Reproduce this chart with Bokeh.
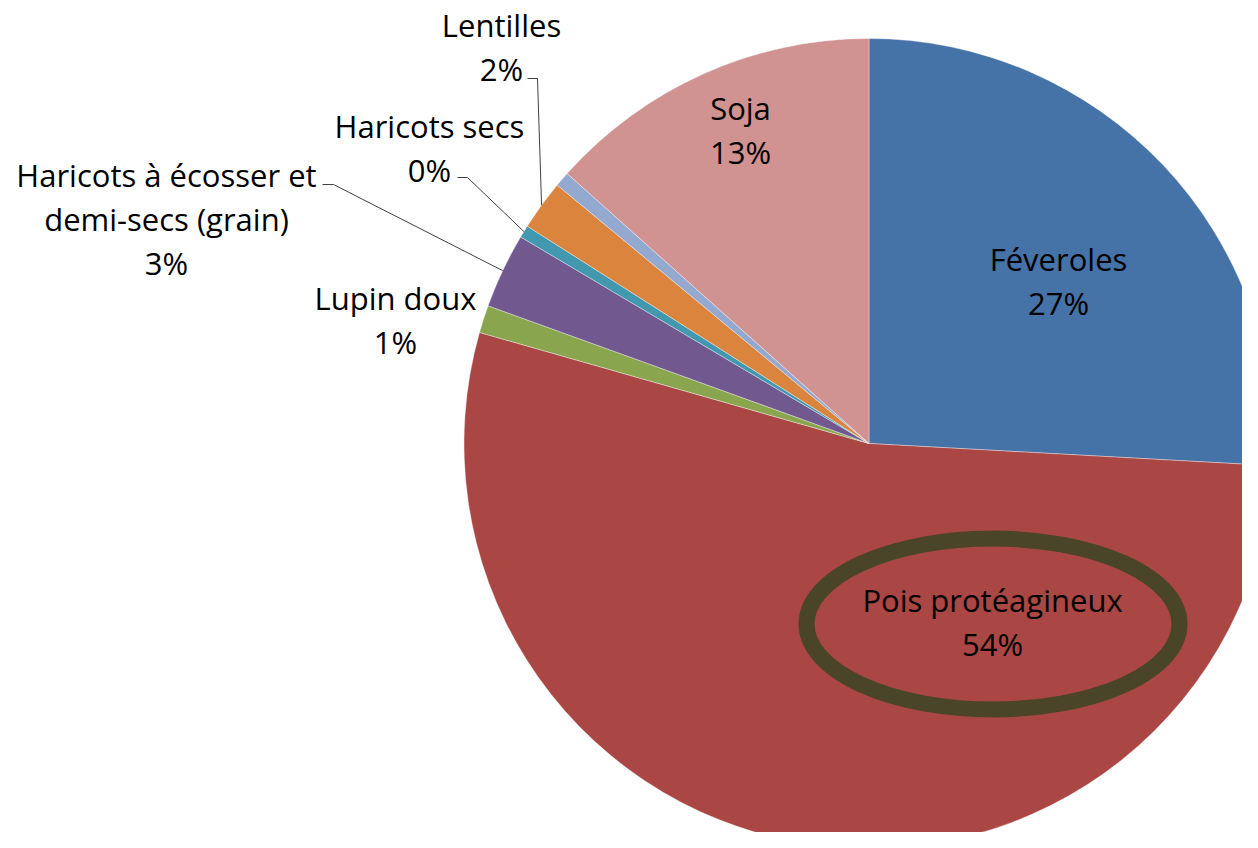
import math
from bokeh.plotting import figure
from bokeh.models import Range1d
from bokeh.embed import file_html
from bokeh.resources import INLINE
from bokeh.core.properties import value

# ---- data ----
categories = ["Féveroles", "Pois protéagineux", "Lupin doux",
              "Haricots à écosser et demi-secs (grain)", "Haricots secs",
              "Lentilles", "Autres", "Soja"]
shares = [25.9, 53.6, 1.1, 3.0, 0.5, 2.0, 0.6, 13.4]
labels = ["Féveroles\n27%", "Pois protéagineux\n54%", "Lupin doux\n1%",
          "Haricots à écosser et\ndemi-secs (grain)\n3%", "Haricots secs\n0%",
          "Lentilles\n2%", "", "Soja\n13%"]
colors = ["#4572A7", "#AA4643", "#89A54E", "#71588F", "#4198AF",
          "#DB843D", "#93A9CF", "#D19392"]

# ---- layout (picture pixel coordinates) ----
W, H = 1242, 832
def X(px): return px
def Y(py): return H - py

CX, CY, R = X(868.5), Y(443), 405
LINE_H = 44
TEXT_SHIFT = -10
# first-line baseline position of each label
label_pos = {
    "Féveroles": (1058, 268),
    "Pois protéagineux": (992, 609),
    "Lupin doux": (395, 307),
    "Haricots à écosser et demi-secs (grain)": (166, 184),
    "Haricots secs": (429, 135),
    "Lentilles": (501, 34),
    "Soja": (740, 117),
}
# leader line start (tick start, tick end)
leaders = {
    "Haricots à écosser et demi-secs (grain)": ((322, 184), (333, 184)),
    "Haricots secs": ((457, 177), (467, 177)),
    "Lentilles": ((527, 78), (537, 78)),
}

p = figure(width=W, height=H, output_backend="svg", toolbar_location=None,
           x_range=Range1d(0, W), y_range=Range1d(0, H), min_border=0)
p.axis.visible = False
p.grid.visible = False
p.outline_line_color = None
p.background_fill_color = "white"

total = sum(shares)
starts, ends, mids = [], [], []
acc = 0.0
for v in shares:
    t1 = acc / total * 2 * math.pi
    acc += v
    t2 = acc / total * 2 * math.pi
    starts.append(math.pi / 2 - t2)
    ends.append(math.pi / 2 - t1)
    mids.append((t1 + t2) / 2)

p.wedge(x=CX, y=CY, radius=R, start_angle=starts, end_angle=ends,
        fill_color=colors, line_color="white", line_width=0.6, line_alpha=0.6)

for cat, (a, b) in leaders.items():
    i = categories.index(cat)
    t = mids[i]
    ex = CX + R * math.sin(t)
    ey = CY + R * math.cos(t)
    p.line([X(a[0]), X(b[0]), ex], [Y(a[1]), Y(b[1]), ey],
           line_color="#404040", line_width=1)

p.ellipse(x=X(992.5), y=Y(623.5), width=373, height=171,
          fill_color=None, line_color="#4A4429", line_width=16)

tx, ty, tt = [], [], []
for cat, lab in zip(categories, labels):
    if not lab:
        continue
    bx, by = label_pos[cat]
    for k, line in enumerate(lab.split("\n")):
        tx.append(X(bx))
        ty.append(Y(by + TEXT_SHIFT + k * LINE_H))
        tt.append(line)
p.text(x=tx, y=ty, text=tt, text_align="center", text_baseline="alphabetic",
       text_font=value("Open Sans"), text_font_size="31px", text_color="black")

open("out.html", "w").write(file_html(p, INLINE))
